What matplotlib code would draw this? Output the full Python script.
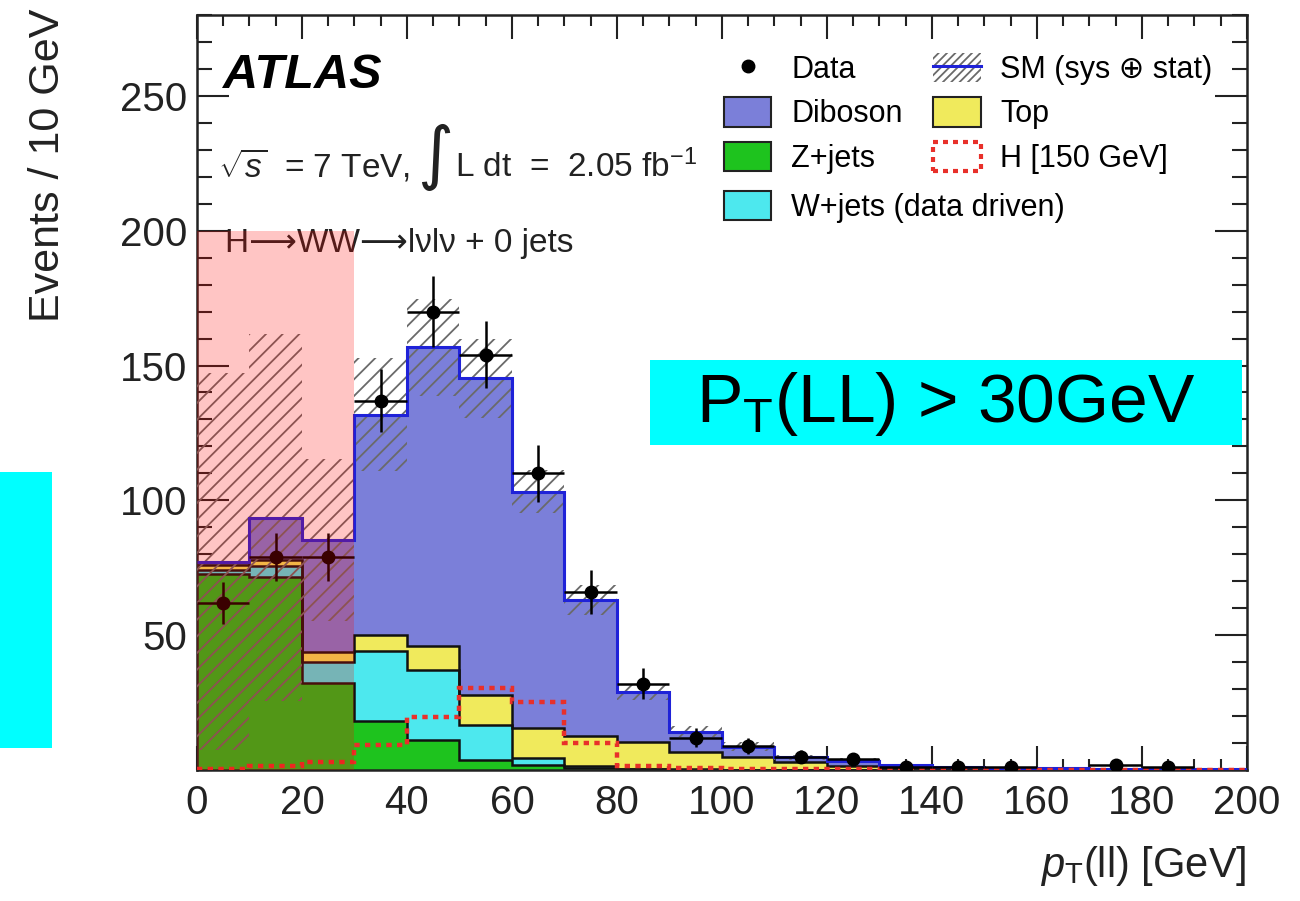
import matplotlib
matplotlib.use('Agg')
import matplotlib.pyplot as plt
import numpy as np
from matplotlib.patches import Rectangle, Patch
from matplotlib.lines import Line2D
from matplotlib.ticker import MultipleLocator

plt.rcParams['font.family'] = ['Liberation Sans', 'DejaVu Sans']
plt.rcParams['mathtext.fontset'] = 'custom'
plt.rcParams['mathtext.rm'] = 'Liberation Sans'
plt.rcParams['mathtext.it'] = 'Liberation Sans:italic'
plt.rcParams['hatch.linewidth'] = 1.3

# 10 GeV bins, 0 - 200 GeV
bin_edges = np.arange(0, 201, 10)
bin_centers = bin_edges[:-1] + 5

# background estimates (events / 10 GeV), stacked bottom -> top
zjets = [72.5, 71.5, 32.3, 18, 11, 3.7, 1.8, 0.8, 0.2, 0.1,
         0, 0, 0, 0, 0, 0, 0, 0, 0, 0]
wjets = [1.5, 4, 7.8, 26, 26, 13, 2.6, 0.7, 0.3, 0.2,
         0.1, 0, 0, 0, 0, 0, 0, 0, 0, 0]
top = [2, 2.5, 3.7, 6, 8.8, 11.1, 11.1, 11.2, 10, 6.5,
       4.9, 3, 1.5, 0.6, 0.4, 0.3, 0.2, 0.2, 0.1, 0.1]
diboson = [1.3, 15.6, 41.6, 81.8, 110.9, 117.4, 87.7, 50.3, 18.5, 7.4,
           3.7, 1.7, 2, 1.2, 0.6, 0.5, 0.4, 0.3, 0.3, 0.2]
sm_err = [70, 68, 30, 21, 18, 14.5, 8, 5.5, 3, 2,
          1.5, 1, 0.8, 0.5, 0.4, 0.3, 0.3, 0.2, 0.2, 0.2]
higgs = [0.3, 1.5, 3, 9.3, 19.8, 30.3, 25.4, 9.9, 1.5, 0.6,
         0.4, 0.3, 0.2, 0.1, 0.1, 0.1, 0.1, 0.1, 0.1, 0.1]
data = [62, 79, 79, 137, 170, 154, 110, 66, 32, 12,
        9, 5, 4, 1, 1, 1, 0, 2, 1, 0]

c_dib = '#7b7fd9'
c_top = '#f0ea5c'
c_z = '#1ec31e'
c_w = '#4de8ee'
c_sm = '#1f22d8'
c_h = '#e8302a'

fig = plt.figure(figsize=(13, 9.01), dpi=100)
ax = fig.add_axes([0.1515, 0.1454, 0.8077, 0.8380])

# cumulative stack, drawn from the total down like a THStack
s1 = np.array(zjets)
s2 = s1 + np.array(wjets)
s3 = s2 + np.array(top)
s4 = s3 + np.array(diboson)
for vals, col in [(s4, c_dib), (s3, c_top), (s2, c_w), (s1, c_z)]:
    ax.stairs(vals, bin_edges, baseline=0, fill=True, facecolor=col,
              edgecolor='none', zorder=2)
    ax.stairs(vals, bin_edges, baseline=None, color='#111111', lw=1.8, zorder=2.2)

# SM uncertainty band + total line
err = np.array(sm_err)
ax.stairs(s4 + err, bin_edges, baseline=np.clip(s4 - err, 0, None), fill=True,
          facecolor='none', edgecolor='#6a6a6a', hatch='//', lw=0, zorder=3)
ax.stairs(s4, bin_edges, baseline=None, color=c_sm, lw=2.2, zorder=3.2)

# signal
ax.stairs(higgs, bin_edges, baseline=None, color=c_h, lw=3.2,
          linestyle=(0, (1.2, 1.2)), zorder=3.5)

# data
d = np.array(data, dtype=float)
m = d > 0
ax.errorbar(bin_centers[m], d[m], yerr=np.sqrt(d[m]), xerr=5, fmt='o',
            color='black', ms=9, elinewidth=1.8, capsize=0, zorder=4)

ax.set_xlim(0, 200)
ax.set_ylim(0, 280)
ax.xaxis.set_major_locator(MultipleLocator(20))
ax.xaxis.set_minor_locator(MultipleLocator(5))
ax.yaxis.set_major_locator(MultipleLocator(50))
ax.yaxis.set_minor_locator(MultipleLocator(10))
ax.set_yticks([50, 100, 150, 200, 250])
ax.tick_params(which='both', direction='in', top=True, right=True,
               width=1.5, colors='#222222', labelsize=29)
ax.tick_params(axis='x', which='major', length=17, pad=10)
ax.tick_params(axis='x', which='minor', length=8)
ax.tick_params(axis='y', which='major', length=23, pad=7)
ax.tick_params(axis='y', which='minor', length=11)
for sp in ax.spines.values():
    sp.set_linewidth(1.8)
    sp.set_color('#222222')

fig.text(0.037, 0.99, 'Events / 10 GeV', rotation=90, ha='center', va='top',
         fontsize=31, color='#222222')
fig.text(0.959, 1 - 877 / 901, r'$p_{\mathrm{T}}$(ll) [GeV]', ha='right',
         va='baseline', fontsize=30, color='#222222')

# ATLAS labels
ax.text(5, 253, 'ATLAS', fontsize=35, fontweight='bold', style='italic', zorder=6)
ax.text(4, 220, r'$\sqrt{s}$  = 7 TeV,', fontsize=24, color='#222222', zorder=6)
ax.text(42.0, 227, '\u222b', fontsize=50, family='DejaVu Sans', va='center',
        color='#222222', zorder=6)
ax.text(49.1, 220, r'L dt  =  2.05 fb$^{-1}$', fontsize=24, color='#222222', zorder=6)
ax.text(5.3, 192, 'H\u27f6WW\u27f6l\u03bdl\u03bd + 0 jets', fontsize=24,
        color='#222222', zorder=6)

# legends
h_data = Line2D([], [], marker='o', color='black', ls='none', ms=9)
h_sm = (Patch(facecolor='none', edgecolor='#6a6a6a', hatch='////', lw=0),
        Line2D([], [], color=c_sm, lw=2.2))
h_dib = Patch(facecolor=c_dib, edgecolor='#222222', lw=1.5)
h_top = Patch(facecolor=c_top, edgecolor='#222222', lw=1.5)
h_z = Patch(facecolor=c_z, edgecolor='#222222', lw=1.5)
h_h = Patch(facecolor='none', edgecolor=c_h, lw=3, linestyle=(0, (1.2, 1.2)))
h_w = Patch(facecolor=c_w, edgecolor='#222222', lw=1.5)

leg_kw = dict(frameon=False, fontsize=22, handlelength=1.55, handleheight=1.1,
              handletextpad=0.65, labelspacing=0.4, borderpad=0,
              borderaxespad=0, loc='upper left', bbox_transform=fig.transFigure)
leg1 = ax.legend([h_data, h_dib, h_z, h_sm, h_top, h_h],
                 ['Data', 'Diboson', 'Z+jets', 'SM (sys \u2295 stat)', 'Top',
                  'H [150 GeV]'],
                 ncol=2, columnspacing=1.0,
                 bbox_to_anchor=(724 / 1300, 1 - 53 / 901), **leg_kw)
ax.add_artist(leg1)
ax.legend([h_w], ['W+jets (data driven)'],
          bbox_to_anchor=(724 / 1300, 1 - 191 / 901), **leg_kw)

# pink highlight over the low pT(ll) region
ax.add_patch(Rectangle((0, 0), 30, 200, facecolor='#ff0800', alpha=0.23,
                       edgecolor='none', zorder=10))

# cyan annotation boxes
fig.patches.append(Rectangle((650 / 1300, 1 - 445 / 901), 592 / 1300, 85 / 901,
                             transform=fig.transFigure, facecolor='#00ffff',
                             edgecolor='none', zorder=20))
fig.text(946 / 1300, 1 - 404 / 901, r'P$_{\mathrm{T}}$(LL) > 30GeV', ha='center',
         va='center', fontsize=50, color='black', zorder=21)
fig.patches.append(Rectangle((0, 1 - 748 / 901), 52 / 1300, 276 / 901,
                             transform=fig.transFigure, facecolor='#00ffff',
                             edgecolor='none', zorder=20))

fig.savefig('out.png', dpi=100)
